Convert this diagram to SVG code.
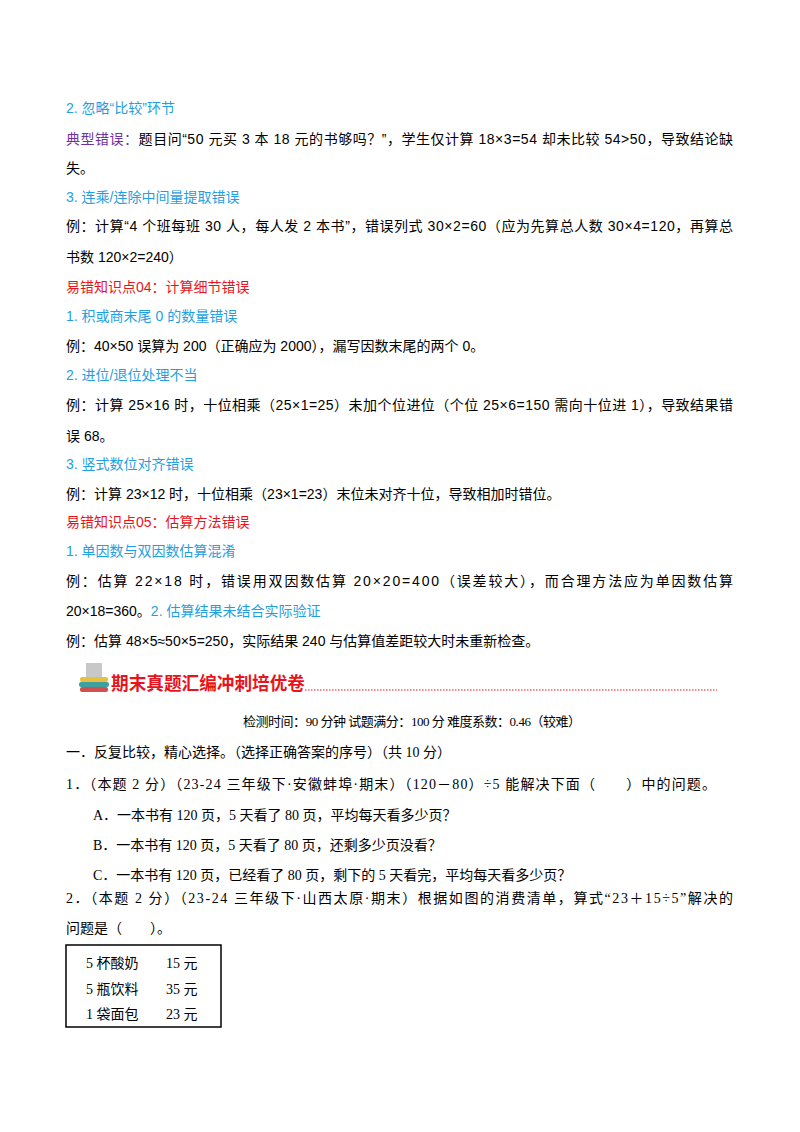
<svg xmlns="http://www.w3.org/2000/svg" width="800" height="1132" viewBox="0 0 800 1132">
<style>
text{font-family:"Liberation Sans","Noto Sans CJK SC",sans-serif;font-size:14px;fill:#000}
.b{fill:#1fa0e0}.r{fill:#e8141b}.p{fill:#7030a0}
.s{font-family:"Liberation Serif","Noto Sans CJK SC",serif}
</style>
<rect width="800" height="1132" fill="#fff"/>
<g id="body">
<text x="66" y="113" class="b">2. 忽略“比较”环节</text>
<text x="66" y="144" textLength="667" lengthAdjust="spacing"><tspan class="p">典型错误：</tspan>题目问“50 元买 3 本 18 元的书够吗？”，学生仅计算 18×3=54 却未比较 54&gt;50，导致结论缺</text>
<text x="66" y="173">失。</text>
<text x="66" y="202" class="b">3. 连乘/连除中间量提取错误</text>
<text x="66" y="231" textLength="667" lengthAdjust="spacing">例：计算“4 个班每班 30 人，每人发 2 本书”，错误列式 30×2=60（应为先算总人数 30×4=120，再算总</text>
<text x="66" y="262">书数 120×2=240）</text>
<text x="66" y="292" class="r">易错知识点04：计算细节错误</text>
<text x="66" y="321" class="b">1. 积或商末尾 0 的数量错误</text>
<text x="66" y="351">例：40×50 误算为 200（正确应为 2000），漏写因数末尾的两个 0。</text>
<text x="66" y="380" class="b">2. 进位/退位处理不当</text>
<text x="66" y="410" textLength="667" lengthAdjust="spacing">例：计算 25×16 时，十位相乘（25×1=25）未加个位进位（个位 25×6=150 需向十位进 1），导致结果错</text>
<text x="66" y="441">误 68。</text>
<text x="66" y="469" class="b">3. 竖式数位对齐错误</text>
<text x="66" y="499">例：计算 23×12 时，十位相乘（23×1=23）末位未对齐十位，导致相加时错位。</text>
<text x="66" y="527" class="r">易错知识点05：估算方法错误</text>
<text x="66" y="556" class="b">1. 单因数与双因数估算混淆</text>
<text x="66" y="586" textLength="667" lengthAdjust="spacing">例：估算 22×18 时，错误用双因数估算 20×20=400（误差较大），而合理方法应为单因数估算</text>
<text x="66" y="616">20×18=360。<tspan class="b">2. 估算结果未结合实际验证</tspan></text>
<text x="66" y="646">例：估算 48×5≈50×5=250，实际结果 240 与估算值差距较大时未重新检查。</text>
</g>
<g id="banner">
<rect x="86" y="663" width="16" height="14" fill="#c8c8c8"/>
<rect x="80" y="677" width="28" height="5" rx="2" fill="#e8c040"/>
<rect x="79" y="682" width="30" height="5" rx="2" fill="#40a0a0"/>
<rect x="80" y="687" width="28" height="5" rx="2" fill="#d05050"/>
<text x="111" y="690" class="r" style="font-size:18px;font-weight:bold" textLength="194" lengthAdjust="spacingAndGlyphs">期末真题汇编冲刺培优卷</text>
<line x1="305" y1="690" x2="717" y2="690" stroke="#e8141b" stroke-width="1" stroke-dasharray="1.5,1.5"/>
</g>
<g id="exam" class="s">
<text x="412" y="726" text-anchor="middle" class="s" style="font-size:13px" textLength="338" lengthAdjust="spacing">检测时间：90 分钟 试题满分：100 分 难度系数：0.46（较难）</text>
<text x="66" y="757" class="s">一．反复比较，精心选择。（选择正确答案的序号）（共 10 分）</text>
<text x="66" y="789" class="s" textLength="650" lengthAdjust="spacing">1．（本题 2 分）（23-24 三年级下·安徽蚌埠·期末）（120－80）÷5 能解决下面（　　）中的问题。</text>
<text x="93" y="820" class="s">A．一本书有 120 页，5 天看了 80 页，平均每天看多少页？</text>
<text x="93" y="850" class="s">B．一本书有 120 页，5 天看了 80 页，还剩多少页没看？</text>
<text x="93" y="880" class="s">C．一本书有 120 页，已经看了 80 页，剩下的 5 天看完，平均每天看多少页？</text>
<text x="66" y="903" class="s" textLength="667" lengthAdjust="spacing">2．（本题 2 分）（23-24 三年级下·山西太原·期末）根据如图的消费清单，算式“23＋15÷5”解决的</text>
<text x="66" y="933" class="s">问题是（　　）。</text>
</g>
<g id="receipt">
<rect x="66" y="945" width="155" height="82" fill="none" stroke="#000" stroke-width="1.5"/>
<text x="86" y="968" class="s">5 杯酸奶</text><text x="166" y="968" class="s">15 元</text>
<text x="86" y="994" class="s">5 瓶饮料</text><text x="166" y="994" class="s">35 元</text>
<text x="86" y="1019" class="s">1 袋面包</text><text x="166" y="1019" class="s">23 元</text>
</g>
</svg>
